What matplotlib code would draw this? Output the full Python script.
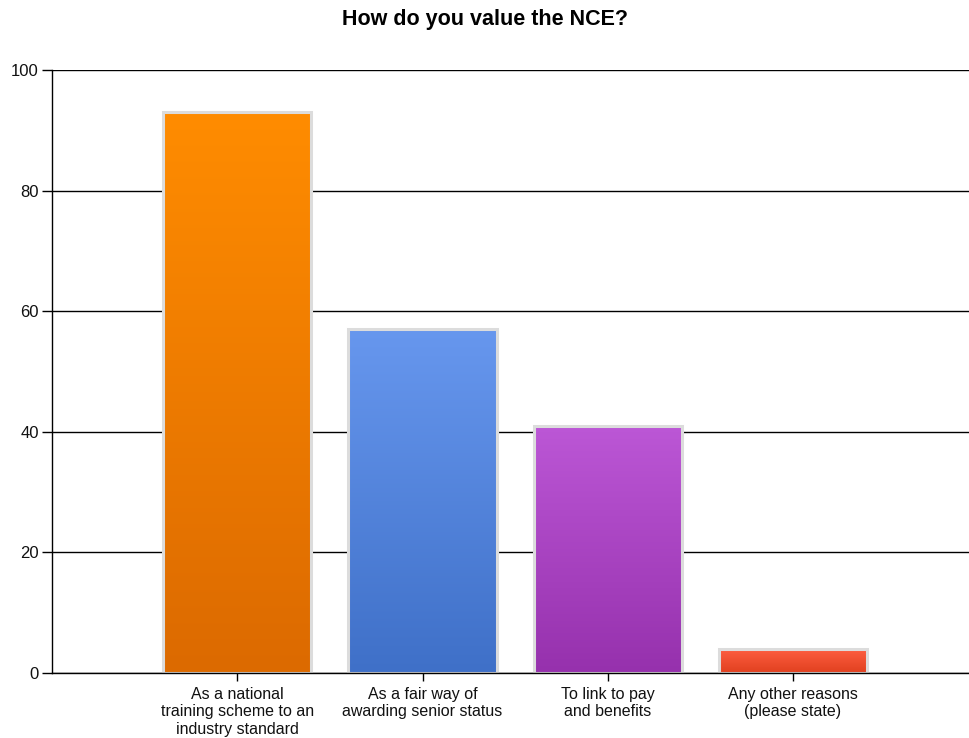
import numpy as np
import matplotlib
matplotlib.use('Agg')
from matplotlib import pyplot as plt
from matplotlib.colors import LinearSegmentedColormap

# chart data
categories = ['As a national\ntraining scheme to an\nindustry standard',
              'As a fair way of\nawarding senior status',
              'To link to pay\nand benefits',
              'Any other reasons\n(please state)']
values = [93, 57, 41, 4]
# gradient colours per bar: (top, bottom)
bar_colors = [('#ff8c00', '#dc6a00'),
              ('#6797ee', '#3f70c8'),
              ('#bc57d6', '#9631ad'),
              ('#ff5f42', '#e0401f')]
yticks = [0, 20, 40, 60, 80, 100]

plt.rcParams['font.family'] = ['Liberation Sans', 'DejaVu Sans']

fig = plt.figure(figsize=(9.69, 7.38), dpi=100)
ax = fig.add_axes([52 / 969, 65 / 738, 1 - 52 / 969, 603 / 738])

x = np.arange(len(values))
width = 0.8
grad = np.linspace(1, 0, 256).reshape(-1, 1)

for xi, v, (top, bot) in zip(x, values, bar_colors):
    cmap = LinearSegmentedColormap.from_list('g', [bot, top])
    ax.imshow(grad, cmap=cmap, aspect='auto', zorder=3,
              extent=(xi - width / 2, xi + width / 2, 0, v), vmin=0, vmax=1)
    ax.bar(xi, v, width=width, facecolor='none', edgecolor='#dcdcdc',
           linewidth=2.2, zorder=4)

ax.set_xlim(-1.0, 3.95)
ax.set_ylim(0, 100)
ax.set_yticks(yticks)
ax.set_xticks(x)
ax.set_xticklabels(categories, fontsize=11.5, color='#111111', linespacing=1.2)
ax.tick_params(axis='y', labelsize=12, length=7, width=1, pad=2.5, labelcolor='#111111')
ax.tick_params(axis='x', length=6, width=1, pad=4)

ax.grid(axis='y', color='black', linewidth=1, zorder=1)
ax.set_axisbelow(True)
for s in ['top', 'right']:
    ax.spines[s].set_visible(False)
for s in ['left', 'bottom']:
    ax.spines[s].set_color('black')
    ax.spines[s].set_linewidth(1)
    ax.spines[s].set_zorder(5)

fig.text(485 / 969, 1 - 20 / 738, 'How do you value the NCE?', ha='center', va='center',
         fontsize=15.5, fontweight='bold')

fig.savefig('out.png', dpi=100)
